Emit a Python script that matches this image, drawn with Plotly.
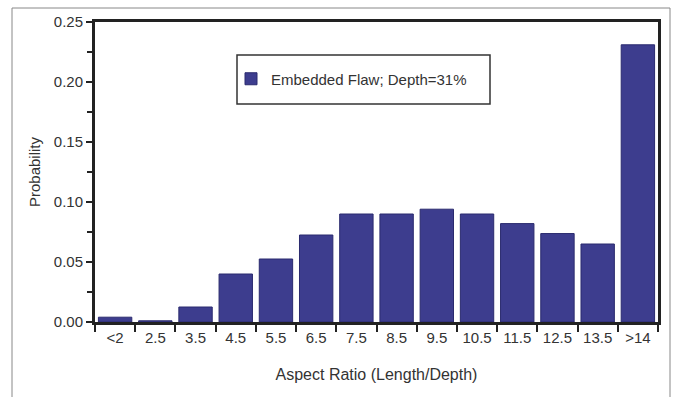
import plotly.graph_objects as go

categories = ["<2", "2.5", "3.5", "4.5", "5.5", "6.5", "7.5", "8.5", "9.5",
              "10.5", "11.5", "12.5", "13.5", ">14"]
probability = [0.004, 0.001, 0.0125, 0.040, 0.0525, 0.0725, 0.090, 0.090,
               0.094, 0.090, 0.082, 0.0737, 0.065, 0.231]
series_name = "Embedded Flaw; Depth=31%"

W, H = 673, 397
L, R, T, B = 95, 15, 22, 75
PW, PH = W - L - R, H - T - B


def px(x):
    return (x - L) / PW


def py(y):
    return (H - B - y) / PH


fig = go.Figure()
fig.add_trace(go.Bar(
    x=categories, y=probability, name=series_name,
    marker=dict(color="#3d3d8e", line=dict(color="#2a2a6e", width=1)),
    showlegend=True,
))

font = dict(family="Liberation Sans, Arial, sans-serif", size=15, color="#333333")
title_font = dict(family="Liberation Sans, Arial, sans-serif", size=16, color="#333333")

fig.update_layout(
    width=W, height=H,
    margin=dict(l=L, r=R, t=T, b=B),
    paper_bgcolor="white", plot_bgcolor="white",
    font=font,
    bargap=0.17,
    xaxis=dict(
        title=dict(text="Aspect Ratio (Length/Depth)", font=title_font, standoff=24),
        type="category",
        showline=True, linecolor="#222222", linewidth=3, mirror=True,
        ticks="outside", tickson="boundaries", ticklen=7, tickwidth=2, tickcolor="#222222",
        showgrid=False, zeroline=False,
        tickfont=font,
    ),
    yaxis=dict(
        title=dict(text="Probability", font=font, standoff=10),
        range=[0, 0.25], dtick=0.05, tickformat=".2f",
        showline=True, linecolor="#222222", linewidth=3, mirror=True,
        ticks="outside", ticklen=6, tickwidth=2, tickcolor="#222222",
        minor=dict(dtick=0.025, ticks="outside", ticklen=5, tickwidth=2, tickcolor="#222222"),
        showgrid=False, zeroline=False,
        tickfont=font,
    ),
    legend=dict(
        x=px(231), y=py(79), xanchor="left", yanchor="middle",
        bgcolor="rgba(0,0,0,0)", borderwidth=0,
        font=font, itemwidth=30,
    ),
    shapes=[
        dict(type="rect", xref="paper", yref="paper",
             x0=px(237), x1=px(490), y0=py(104), y1=py(55),
             line=dict(color="#333333", width=1.5), fillcolor="rgba(0,0,0,0)"),
        dict(type="rect", xref="paper", yref="paper",
             x0=px(12), x1=px(670), y0=py(400), y1=py(8),
             line=dict(color="#888888", width=1), fillcolor="rgba(0,0,0,0)", layer="below"),
    ],
)

fig.write_html("out.html", config={"displayModeBar": False},
               post_script="document.body.style.margin='0';document.body.style.overflow='hidden';")
